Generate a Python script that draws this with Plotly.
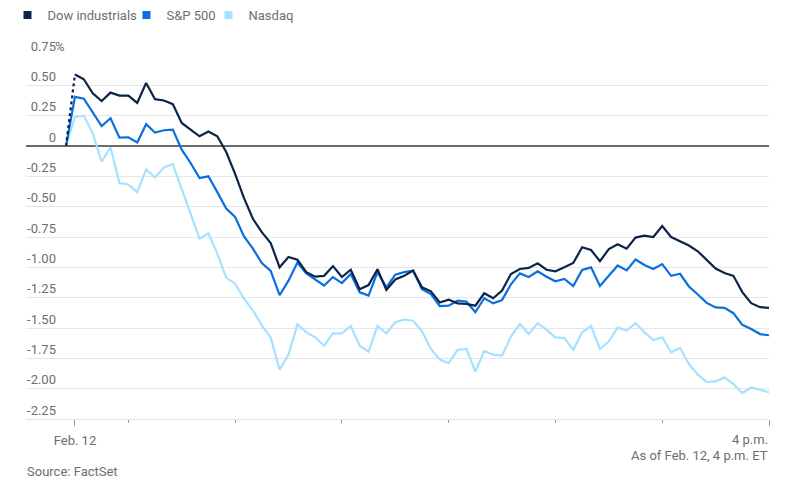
import pandas as pd
import plotly.graph_objects as go

# ---- data (percent change, 5-minute intervals from 9:30 to 16:00) ----
dow = [0.59, 0.55, 0.435, 0.37, 0.44, 0.416, 0.416, 0.355, 0.52, 0.386,
       0.375, 0.345, 0.19, 0.135, 0.08, 0.12, 0.08, -0.05, -0.23, -0.43,
       -0.6, -0.71, -0.8, -1.0, -0.915, -0.937, -1.04, -1.077, -1.07, -0.99,
       -1.08, -1.02, -1.18, -1.146, -1.016, -1.187, -1.1, -1.07, -1.027, -1.165,
       -1.198, -1.29, -1.266, -1.297, -1.302, -1.316, -1.214, -1.255, -1.192, -1.055,
       -1.014, -1.005, -0.967, -1.02, -1.033, -1.0, -0.964, -0.835, -0.857, -0.95,
       -0.85, -0.81, -0.846, -0.755, -0.739, -0.75, -0.66, -0.75, -0.786, -0.82,
       -0.868, -0.937, -1.01, -1.047, -1.07, -1.204, -1.295, -1.328, -1.334]

sp500 = [0.405, 0.39, 0.276, 0.165, 0.229, 0.069, 0.072, 0.03, 0.18, 0.11,
         0.13, 0.135, -0.03, -0.14, -0.264, -0.25, -0.38, -0.516, -0.585, -0.745,
         -0.846, -0.964, -1.03, -1.23, -1.11, -0.96, -1.05, -1.1, -1.15, -1.08,
         -1.13, -1.055, -1.206, -1.233, -1.04, -1.165, -1.06, -1.04, -1.027, -1.18,
         -1.22, -1.32, -1.316, -1.275, -1.283, -1.37, -1.255, -1.297, -1.27, -1.14,
         -1.05, -1.08, -1.033, -1.077, -1.115, -1.096, -1.154, -1.022, -1.0, -1.154,
         -1.069, -0.985, -1.025, -0.935, -0.98, -1.014, -0.973, -1.07, -1.053, -1.158,
         -1.224, -1.293, -1.33, -1.334, -1.378, -1.474, -1.508, -1.55, -1.56]

nasdaq = [0.24, 0.25, 0.105, -0.13, -0.01, -0.306, -0.317, -0.38, -0.193, -0.26,
          -0.176, -0.15, -0.36, -0.56, -0.764, -0.72, -0.887, -1.085, -1.135, -1.258,
          -1.354, -1.478, -1.58, -1.843, -1.72, -1.47, -1.536, -1.577, -1.646, -1.544,
          -1.544, -1.483, -1.646, -1.695, -1.483, -1.544, -1.453, -1.43, -1.44, -1.527,
          -1.673, -1.76, -1.79, -1.68, -1.673, -1.86, -1.69, -1.72, -1.728, -1.57,
          -1.467, -1.55, -1.46, -1.516, -1.577, -1.582, -1.68, -1.536, -1.484, -1.673,
          -1.61, -1.497, -1.52, -1.46, -1.535, -1.6, -1.576, -1.7, -1.665, -1.797,
          -1.885, -1.945, -1.94, -1.907, -1.962, -2.036, -1.99, -2.01, -2.03]

prev_close = 0.0
prev_time = pd.Timestamp("2025-02-12 09:25")
times = list(pd.date_range("2025-02-12 09:30", "2025-02-12 16:00", freq="5min"))

series_names = ["Dow industrials", "S&P 500", "Nasdaq"]
series_colors = ["#0b2447", "#0a6fdf", "#a6e1ff"]

y_tickvals = [0.75, 0.5, 0.25, 0, -0.25, -0.5, -0.75, -1.0, -1.25, -1.5, -1.75, -2.0, -2.25]
y_ticktext = ["0.75", "0.50", "0.25", "0", "-0.25", "-0.50", "-0.75", "-1.00",
              "-1.25", "-1.50", "-1.75", "-2.00", "-2.25"]
x_tickvals = [pd.Timestamp("2025-02-12 09:30"), pd.Timestamp("2025-02-12 16:00")]
x_ticktext = ["Feb. 12", ""]
x_end_label = "4 p.m."
note_text = "As of Feb. 12, 4 p.m. ET"
source_text = "Source: FactSet"

FONT = "Roboto, 'Noto Sans', sans-serif"
GREY = "#6e6e6e"
LW = 2.2

fig = go.Figure()

# Nasdaq, S&P (solid from previous close)
fig.add_trace(go.Scatter(x=[prev_time] + times, y=[prev_close] + nasdaq, mode="lines",
                         line=dict(color=series_colors[2], width=LW), showlegend=False,
                         hoverinfo="skip"))
fig.add_trace(go.Scatter(x=[prev_time] + times, y=[prev_close] + sp500, mode="lines",
                         line=dict(color=series_colors[1], width=LW), showlegend=False,
                         hoverinfo="skip"))
# Dow: dotted first segment, then solid
fig.add_trace(go.Scatter(x=[prev_time, times[0]], y=[prev_close, dow[0]], mode="lines",
                         line=dict(color=series_colors[0], width=LW, dash="dot"),
                         showlegend=False, hoverinfo="skip"))
fig.add_trace(go.Scatter(x=times, y=dow, mode="lines",
                         line=dict(color=series_colors[0], width=LW), showlegend=False,
                         hoverinfo="skip"))

# legend entries (square swatches)
legend_widths = [74, 37, 60]
for name, color, lw in zip(series_names, series_colors, legend_widths):
    fig.add_trace(go.Scatter(x=[None], y=[None], mode="markers", name=name,
                             legendwidth=lw,
                             marker=dict(symbol="square", size=8, color=color)))

fig.update_layout(
    width=783, height=484,
    margin=dict(l=18, r=22, t=47, b=73, autoexpand=False),
    paper_bgcolor="white", plot_bgcolor="white",
    font=dict(family=FONT, size=13, color=GREY),
    showlegend=True,
    legend=dict(orientation="h", x=-0.0249, xanchor="left", y=1.11, yanchor="middle",
                font=dict(size=13, color=GREY), itemwidth=30, traceorder="normal",
                bgcolor="rgba(0,0,0,0)"),
    xaxis=dict(type="date",
               range=[pd.Timestamp("2025-02-12 09:02:30"), pd.Timestamp("2025-02-12 16:00")],
               tickmode="array", tickvals=x_tickvals, ticktext=x_ticktext,
               ticks="outside", ticklen=6, tickcolor="#9a9a9a", tickwidth=1,
               ticklabelstandoff=3,
               minor=dict(ticks="outside", ticklen=3, tickcolor="#9a9a9a",
                          tick0="2025-02-12 10:00", dtick=3600000, showgrid=False),
               showgrid=False, zeroline=False,
               showline=True, linecolor="#e3e3e3", linewidth=1,
               tickfont=dict(size=13, color=GREY)),
    yaxis=dict(range=[-2.25, 0.75], tickmode="array", tickvals=y_tickvals,
               ticktext=y_ticktext, showgrid=True, gridcolor="#e6e6e6", gridwidth=1,
               zeroline=True, zerolinecolor="#6b6b6b", zerolinewidth=1.5,
               showline=False, ticks="", ticklabelposition="outside",
               ticklabelstandoff=-31, ticklabelshift=-9,
               tickfont=dict(size=13, color=GREY)),
)

fig.add_annotation(text="%", xref="paper", yref="y", x=27 / 743, y=0.75,
                   xanchor="left", yanchor="middle", yshift=9, showarrow=False,
                   font=dict(size=13, color=GREY, family=FONT))
fig.add_annotation(text=x_end_label, xref="x", yref="paper", x=times[-1], y=-0.056,
                   xanchor="right", yanchor="middle", showarrow=False, borderpad=0,
                   font=dict(size=13, color=GREY, family=FONT))
fig.add_annotation(text=note_text, xref="paper", yref="paper", x=1, y=-0.101,
                   xanchor="right", yanchor="middle", showarrow=False, borderpad=0,
                   font=dict(size=13, color=GREY, family=FONT))
fig.add_annotation(text=source_text, xref="paper", yref="paper", x=0, y=-0.145,
                   xanchor="left", yanchor="middle", showarrow=False, borderpad=0,
                   font=dict(size=13, color=GREY, family=FONT))

fig.write_html("out.html")
